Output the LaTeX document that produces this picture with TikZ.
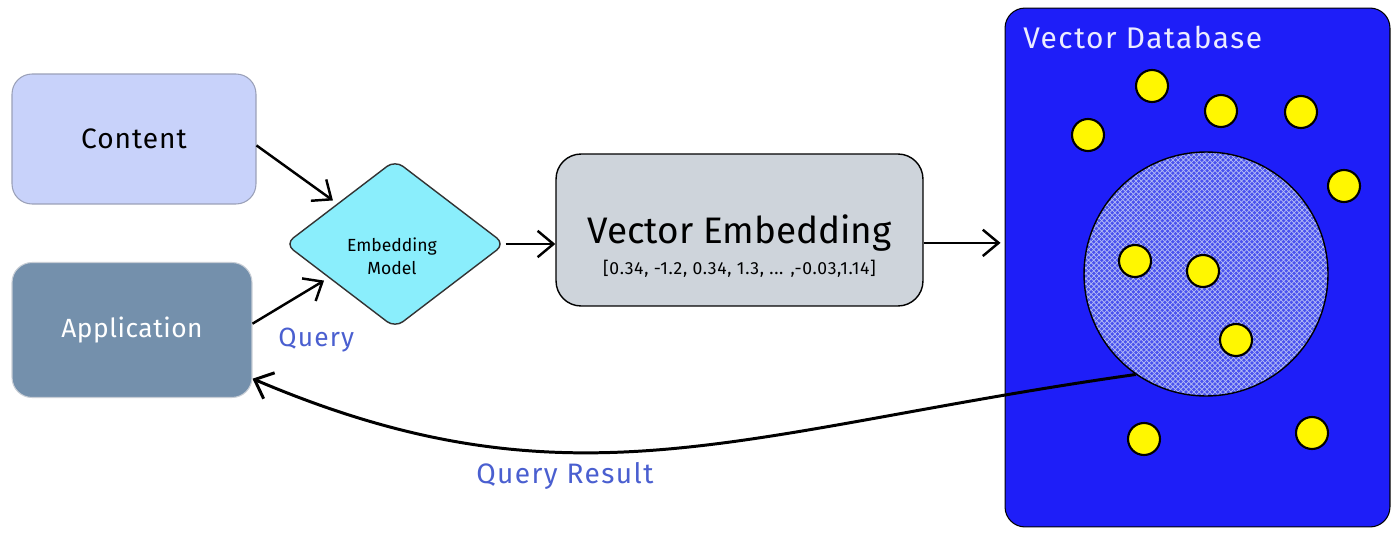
\documentclass[tikz,border=0pt]{standalone}
\usepackage{fontspec}
\setmainfont{Fira Sans}
\usetikzlibrary{shapes.geometric,arrows.meta,patterns,calc}
\newcommand\spaced[1]{\addfontfeatures{LetterSpace=#1}}
\definecolor{contentfill}{HTML}{C8D2FA}
\definecolor{contentline}{HTML}{9AA0B8}
\definecolor{appfill}{HTML}{7490AC}
\definecolor{appline}{HTML}{C8CED6}
\definecolor{modelfill}{HTML}{8AEEFC}
\definecolor{vefill}{HTML}{CED4DB}
\definecolor{dbfill}{HTML}{1E1EF8}
\definecolor{hatchbase}{HTML}{4A52EE}
\definecolor{hatchline}{HTML}{B4BCF6}
\definecolor{dotfill}{HTML}{FFF700}
\definecolor{labelblue}{HTML}{4A5FD0}
\definecolor{dbtitle}{HTML}{ECECFF}
\begin{document}
\begin{tikzpicture}[x=0.02cm,y=-0.02cm,
  box/.style={rectangle, rounded corners=0.4cm, inner sep=0pt},
  arr/.style={line width=1.4pt, -{Straight Barb[length=9pt,width=15pt]}},
  dot/.style={circle, draw=black, line width=1.2pt, fill=dotfill, minimum size=0.64cm, inner sep=0pt},
  lbl/.style={text=labelblue, inner sep=0pt}]
\fill[white] (0,0) rectangle (1399,537);
\useasboundingbox (0,0) rectangle (1399,537);

% left boxes
\node[box, draw=contentline, line width=0.6pt, fill=contentfill,
      minimum width=4.88cm, minimum height=2.6cm,
      font=\fontsize{16}{19}\selectfont\spaced{3.5}] (content) at (134,139) {Content};
\node[box, draw=appline, line width=0.6pt, fill=appfill, text=white,
      minimum width=4.8cm, minimum height=2.7cm,
      font=\fontsize{15}{18}\selectfont\spaced{2}] (app) at (132,330) {Application};

% embedding model diamond
\node[diamond, draw=black!80, line width=0.8pt, fill=modelfill, rounded corners=0.2cm,
      minimum width=4.4cm, minimum height=3.36cm, inner sep=0pt] (model) at (395,244) {};
\node[align=center, inner sep=0pt, font=\fontsize{10}{13}\selectfont] (modeltext) at (392,256) {Embedding\\Model};

% vector embedding box
\node[box, rounded corners=0.5cm, draw=black, line width=0.8pt, fill=vefill,
      minimum width=7.34cm, minimum height=3.04cm] (ve) at (739.5,230) {};
\node[align=center, inner sep=0pt] (vetext) at (739.5,246)
  {{\fontsize{21}{24}\selectfont Vector Embedding}\\[4pt]
   {\fontsize{10}{12}\selectfont\spaced{4}[0.34, -1.2, 0.34, 1.3, ... ,-0.03,1.14]}};

% vector database
\node[box, draw=black, line width=0.6pt, fill=dbfill,
      minimum width=7.7cm, minimum height=10.38cm] (db) at (1197.5,267.5) {};
\node[anchor=west, text=dbtitle, inner sep=0pt,
      font=\fontsize{17}{20}\selectfont\spaced{5}] (dbtitle) at (1023,37) {Vector Database};

% query region
\node[circle, draw=black, line width=0.8pt, minimum size=4.88cm, inner sep=0pt,
      preaction={fill=hatchbase}, pattern=crosshatch, pattern color=hatchline] (circ) at (1206,274) {};

% data points
\node[dot] (p1) at (1152,86) {};
\node[dot] (p2) at (1088,135) {};
\node[dot] (p3) at (1221,111) {};
\node[dot] (p4) at (1301,112) {};
\node[dot] (p5) at (1344,186) {};
\node[dot] (p6) at (1135,261) {};
\node[dot] (p7) at (1203,271) {};
\node[dot] (p8) at (1236,340) {};
\node[dot] (p9) at (1144,439) {};
\node[dot] (p10) at (1312,433) {};

% connectors
\draw[arr, shorten >=3pt] (content.-3) -- (model.145);
\draw[arr, shorten >=3pt] (app.3) -- (model.207);
\draw[arr] (model.east) -- (model.east -| ve.west);
\draw[arr] (ve.-4) -- ($(ve.-4 -| db.west)+(-4,0)$);
\draw[line width=1.7pt, -{Straight Barb[length=9pt,width=16pt]}]
  (circ.235) .. controls +(-396,56) and +(322,137) .. (app.-22);

% labels
\node[lbl, anchor=west, font=\fontsize{15}{18}\selectfont\spaced{4.5}] (qlabel) at (278,340) {Query};
\node[lbl, anchor=west, font=\fontsize{16}{19}\selectfont\spaced{5}] (qrlabel) at (476,476) {Query Result};
\end{tikzpicture}
\end{document}
